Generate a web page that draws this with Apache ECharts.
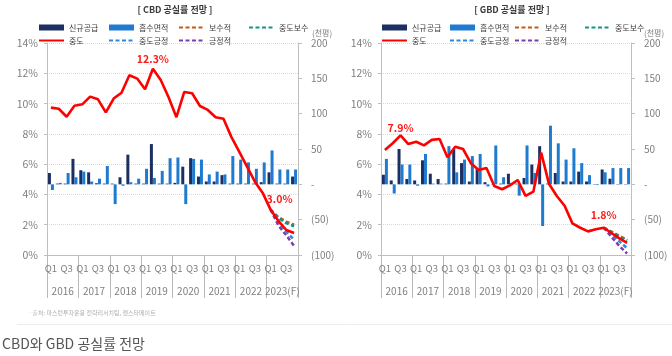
<!DOCTYPE html>
<html><head><meta charset="utf-8">
<script src="https://cdn.jsdelivr.net/npm/echarts@6/dist/echarts.min.js"></script>
<style>html,body{margin:0;padding:0;background:#fff}#c{width:672px;height:356px}</style>
</head><body><div id="c"></div>
<script>
// ---------- data ----------
const quarterLabels = ['Q1','Q2','Q3','Q4','Q1','Q2','Q3','Q4','Q1','Q2','Q3','Q4','Q1','Q2','Q3','Q4',
                       'Q1','Q2','Q3','Q4','Q1','Q2','Q3','Q4','Q1','Q2','Q3','Q4','Q1','Q2','Q3','Q4'];
const years = ['2016','2017','2018','2019','2020','2021','2022','2023(F)'];

// CBD (thousand pyeong, right axis)
const cbdSupply = [16, 1, 1, 36, 20, 17, 1.5, 1, 1, 10, 42, 1, 1, 57, 1, 1, 2, 25, 37, 11, 4, 4, 13, 1, 1, 1, 1, 3, 17, 1, 1, 11];
const cbdAbsorb = [-8, 2, 16, 10, 18, 4, 8, 26, -28, -2, 3, 8, 22, 9, 19, 37, 38, -28, 36, 35, 14, 18, 14, 40, 35, 31, 22, 31, 48, 21, 21, 21];
// CBD vacancy (%), left axis
const cbdMid = [9.73, 9.66, 9.13, 9.86, 9.95, 10.46, 10.28, 9.42, 10.33, 10.72, 11.87, 11.65, 10.94, 12.3, 11.56, 10.42,
                9.1, 10.77, 10.68, 9.84, 9.58, 9.1, 9.0, 7.8, 6.82, 5.83, 4.84, 4.1, 3.0, 2.25, 1.65, 1.45];
// CBD scenarios, 2023 Q1..Q4
const cbdCons    = [3.0, 2.5, 2.2, 2.0];
const cbdMidCons = [3.0, 2.45, 2.1, 1.9];
const cbdMidPos  = [3.0, 2.2, 1.55, 1.0];
const cbdPos     = [3.0, 1.95, 1.3, 0.6];

// GBD
const gbdSupply = [13.6, 5.5, 50, 7.5, 5.5, 34, 15, 7.5, 1, 50, 30, 4, 22, 3, 0.5, 1, 15, 1, 9, 28, 54, 1, 16, 4, 4, 18, 4, 0.5, 21, 8, 0.5, 0.5];
const gbdAbsorb = [36, -13, 28, 28, -2, 43, 1, 1, 54, 17, 35, 40, 43, -3, 55, 10, 2, -16, 55, 16, -59, 83, 58, 35, 51, 30, 13, -1, 17, 23, 23, 23];
const gbdMid = [6.93, 7.38, 7.9, 7.33, 7.48, 7.24, 7.6, 7.66, 6.45, 7.15, 7.0, 6.06, 5.61, 5.75, 4.56, 4.34,
                4.6, 4.95, 3.9, 4.18, 6.76, 4.7, 3.9, 3.25, 2.09, 1.8, 1.56, 1.7, 1.8, 1.45, 1.1, 0.8];
const gbdCons    = [1.8, 1.55, 1.27, 1.0];
const gbdMidCons = [1.8, 1.5, 1.22, 0.95];
const gbdMidPos  = [1.8, 1.4, 0.9, 0.45];
const gbdPos     = [1.8, 1.2, 0.6, 0.1];

// ---------- style ----------
const FONT = '"Noto Sans CJK KR","Noto Sans",sans-serif';
const AX = '#bfbfbf', LBL = '#7f7f7f';
const COL = {supply:'#1c2f62', absorb:'#1f7bd0', mid:'#ff0000', cons:'#c55a11', midCons:'#14958a', midPos:'#2f86de', pos:'#7a3cb0'};

const pad = arr => new Array(quarterLabels.length - arr.length).fill(null).concat(arr);
function labelled(arr, marks){
  return arr.map((v,i)=>{
    const m = marks[i];
    if(!m) return v;
    return {value:v, label:{show:true, position:'top', distance:m.d, offset:m.o||[0,0],
      formatter: v.toFixed(1)+'%', color:'#ff1a1a', fontSize:10.5, fontWeight:'bold', fontFamily:FONT}};
  });
}

const grids = [
  {left:47, top:43, width:251, height:212},
  {left:381, top:43, width:250, height:212}
];

function xAxesFor(g){
  return [
    {gridIndex:g, type:'category', data:quarterLabels, position:'bottom',
     axisLine:{onZero:false, lineStyle:{color:AX}},
     axisTick:{interval:0, length:5, lineStyle:{color:AX}},
     axisLabel:{interval:1, margin:9, fontSize:9.5, color:LBL, fontFamily:FONT},
     splitLine:{show:false}},
    {gridIndex:g, type:'category', data:years, position:'bottom', offset:0,
     axisLine:{show:true, onZero:false, lineStyle:{color:AX}},
     axisTick:{show:true, interval:0, length:43, lineStyle:{color:'#b8b8b8', width:1}},
     axisLabel:{interval:0, margin:31, fontSize:10, color:LBL, fontFamily:FONT},
     splitLine:{show:false}}
  ];
}
function yAxesFor(g){
  return [
    {gridIndex:g, type:'value', position:'left', min:0, max:14, interval:2,
     axisLine:{show:true, lineStyle:{color:AX}},
     axisTick:{show:true, length:3, lineStyle:{color:AX}},
     axisLabel:{formatter:'{value}%', margin:9, fontSize:10.5, color:LBL, fontFamily:FONT},
     splitLine:{show:true, lineStyle:{color:'#d9d9d9', type:'dotted'}}},
    {gridIndex:g, type:'value', position:'right', min:-100, max:200, interval:50,
     axisLine:{show:true, lineStyle:{color:AX}},
     axisTick:{show:true, length:4, lineStyle:{color:AX}},
     axisLabel:{margin:13, fontSize:10, color:LBL, fontFamily:FONT,
       formatter: v => v > 0 ? String(v) : (v === 0 ? '-' : '(' + (-v) + ')')},
     splitLine:{show:false}}
  ];
}
function seriesFor(g, d){
  const xi = g*2, yl = g*2, yr = g*2+1;
  const dash = (name, color, data) => ({name, type:'line', xAxisIndex:xi, yAxisIndex:yl, data:pad(data),
     symbol:'none', lineStyle:{color, width:2.5, type:[4,2.5]}, itemStyle:{color}, z:3});
  return [
    {name:'신규공급', type:'bar', xAxisIndex:xi, yAxisIndex:yr, data:d.supply, barWidth:3, barGap:'0%',
     itemStyle:{color:COL.supply}},
    {name:'흡수면적', type:'bar', xAxisIndex:xi, yAxisIndex:yr, data:d.absorb, barWidth:3, barGap:'0%',
     itemStyle:{color:COL.absorb}},
    dash('보수적', COL.cons, d.cons),
    dash('중도보수', COL.midCons, d.midCons),
    dash('중도긍정', COL.midPos, d.midPos),
    dash('긍정적', COL.pos, d.pos),
    {name:'중도', type:'line', xAxisIndex:xi, yAxisIndex:yl, data:labelled(d.mid, d.marks),
     symbol:'circle', symbolSize:0, showSymbol:true,
     lineStyle:{color:COL.mid, width:2.6}, itemStyle:{color:COL.mid}, z:4}
  ];
}
function legendsFor(cols){
  const base = {orient:'vertical', top:21, itemWidth:25, itemHeight:6, itemGap:0, padding:0, selectedMode:false,
    textStyle:{fontSize:8, color:'#404040', fontFamily:FONT, lineHeight:13}};
  const ln = name => ({name, itemStyle:{opacity:0}});
  const groups = [[{name:'신규공급', icon:'rect'}, ln('중도')],
                  [{name:'흡수면적', icon:'rect'}, ln('중도긍정')],
                  [ln('보수적'), ln('긍정적')],
                  [ln('중도보수')]];
  return groups.map((dt,i)=>Object.assign({}, base, {left:cols[i], data:dt}));
}

const cbd = {supply:cbdSupply, absorb:cbdAbsorb, mid:cbdMid, cons:cbdCons, midCons:cbdMidCons, midPos:cbdMidPos, pos:cbdPos,
  marks:{13:{d:4}, 28:{d:5, o:[9,0]}}};
const gbd = {supply:gbdSupply, absorb:gbdAbsorb, mid:gbdMid, cons:gbdCons, midCons:gbdMidCons, midPos:gbdMidPos, pos:gbdPos,
  marks:{2:{d:2}, 28:{d:7}}};

const txt = (x,y,text,o) => ({type:'text', x, y, silent:true,
  style:Object.assign({text, fill:'#404040', font:'9px '+FONT, textAlign:'left', textVerticalAlign:'middle'}, o||{})});

const option = {
  animation:false,
  backgroundColor:'#ffffff',
  grid:grids,
  xAxis:[...xAxesFor(0), ...xAxesFor(1)],
  yAxis:[...yAxesFor(0), ...yAxesFor(1)],
  legend:[...legendsFor([38,108,178,248]), ...legendsFor([381,449,514,584])],
  series:[...seriesFor(0, cbd), ...seriesFor(1, gbd)],
  graphic:[
    txt(175,10,'[ CBD 공실률 전망 ]',{font:'bold 9px '+FONT, textAlign:'center', fill:'#3a3a3a'}),
    txt(512,10,'[ GBD 공실률 전망 ]',{font:'bold 9px '+FONT, textAlign:'center', fill:'#3a3a3a'}),
    txt(312,33,'(천평)',{font:'8px '+FONT, fill:LBL}),
    txt(644,33,'(천평)',{font:'8px '+FONT, fill:LBL}),
    txt(29,313,'·출처: 마스턴투자운용 전략리서치팀, 젠스타메이트',{font:'6px '+FONT, fill:'#b0b0b0'}),
    {type:'line', silent:true, shape:{x1:17,y1:324.5,x2:672,y2:324.5}, style:{stroke:'#ececec', lineWidth:1}},
    txt(2,344,'CBD와 GBD 공실률 전망',{font:'14px '+FONT, fill:'#555555'})
  ]
};
const chart = echarts.init(document.getElementById('c'), null, {renderer:'canvas'});
chart.setOption(option);
</script>
</body></html>
